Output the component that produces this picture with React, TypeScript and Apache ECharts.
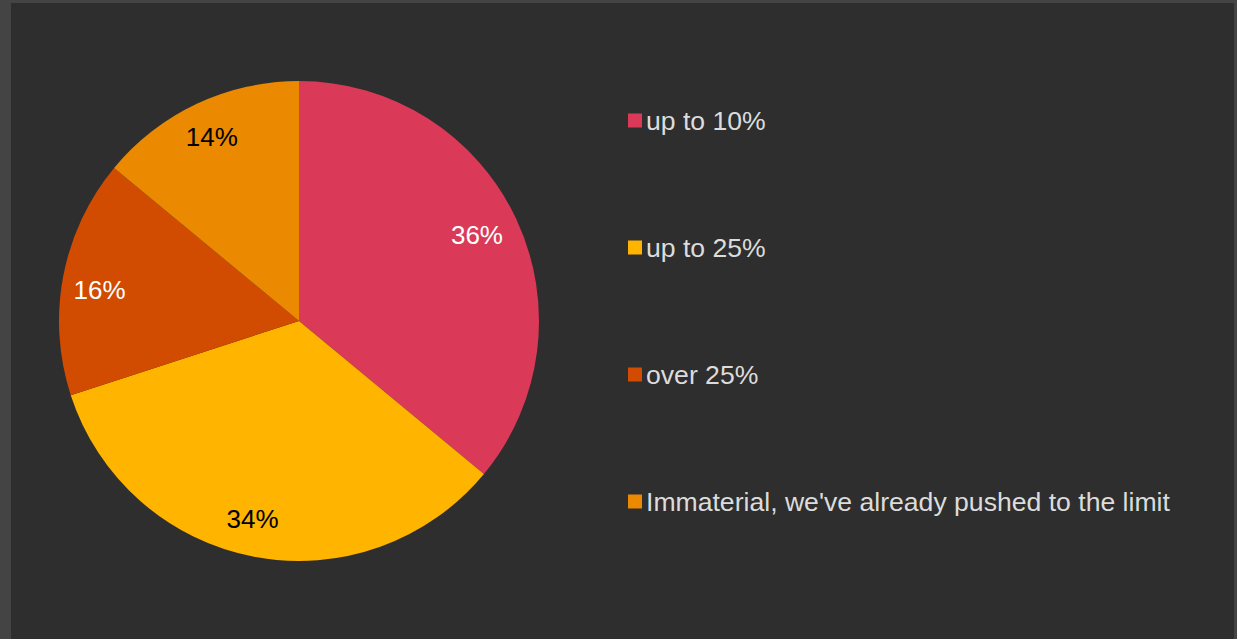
import React, { useEffect, useRef } from "react";
import * as echarts from "echarts";

const categories = ["up to 10%", "up to 25%", "over 25%", "Immaterial, we've already pushed to the limit"];
const values = [36, 34, 16, 14];
const colors = ["#da3a58", "#ffb400", "#d14b00", "#eb8a00"];
const labelColors = ["#ffffff", "#000000", "#ffffff", "#000000"];
const labelOffsets = [[-3, -1], [-9, 2], [-3, 6], [-2, -3]];

export default function App() {
  const ref = useRef<HTMLDivElement>(null);
  useEffect(() => {
    if (!ref.current) return;
    const chart = echarts.init(ref.current, undefined, { renderer: "svg" });
    const center = [288, 318];
    chart.setOption({
      animation: false,
      backgroundColor: "#2e2e2e",
      legend: {
        orient: "vertical",
        left: 612,
        top: 99,
        itemWidth: 14,
        itemHeight: 14,
        itemGap: 100,
        icon: "rect",
        data: categories,
        textStyle: { color: "#dcdcdc", fontSize: 26.6, lineHeight: 26, fontFamily: "Liberation Sans, Arial, sans-serif", padding: [0, 0, 0, -1] },
      },
      series: [
        {
          type: "pie",
          center,
          radius: [0, 240],
          startAngle: 90,
          clockwise: true,
          label: { show: false },
          labelLine: { show: false },
          silent: true,
          data: categories.map((name, i) => ({ name, value: values[i], itemStyle: { color: colors[i] } })),
        },
        {
          type: "pie",
          center,
          radius: [0, 394],
          startAngle: 90,
          clockwise: true,
          silent: true,
          itemStyle: { color: "transparent" },
          labelLine: { show: false },
          label: {
            show: true,
            position: "inside",
            formatter: "{c}%",
            fontSize: 26,
            fontFamily: "Liberation Sans, Arial, sans-serif",
          },
          data: categories.map((name, i) => ({
            name,
            value: values[i],
            itemStyle: { color: "rgba(0,0,0,0)" },
            label: { color: labelColors[i], offset: labelOffsets[i] },
          })),
        },
      ],
    });
    return () => chart.dispose();
  }, []);
  return (
    <div style={{ position: "fixed", left: 0, top: 0, width: 1237, height: 639, background: "#444444", overflow: "hidden" }}>
      <div ref={ref} style={{ position: "absolute", left: 11, top: 3, width: 1223, height: 640 }} />
    </div>
  );
}
